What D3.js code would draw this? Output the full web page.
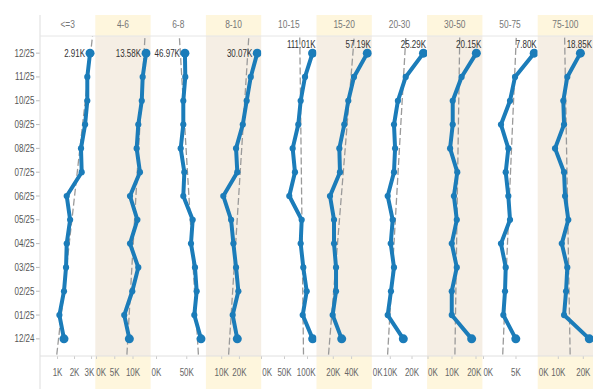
<!DOCTYPE html>
<html><head><meta charset="utf-8">
<script src="https://cdn.jsdelivr.net/npm/d3@7"></script>
<style>
body{margin:0;background:#fff}
svg{display:block}
text{font-family:"Liberation Sans",Arial,sans-serif}
</style>
</head><body>
<svg id="c" width="600" height="391"></svg>
<script>
// ---- data ----
const months = ["12/24","01/25","02/25","03/25","04/25","05/25","06/25","07/25","08/25","09/25","10/25","11/25","12/25"];
const bins = ["<=3","4-6","6-8","8-10","10-15","15-20","20-30","30-50","50-75","75-100"];

const v_le3   = [1380,1110,1380,1500,1540,1740,1540,2420,2380,2620,2750,2750,2910];
const v_4_6   = [9000,7600,9800,11450,9180,11200,9180,11900,11000,11450,12400,12650,13580];
const v_6_8   = [73600,62500,66400,63600,57000,59800,44300,46000,40000,44300,44300,47600,46970];
const v_8_10  = [18800,16200,19400,18100,16600,15300,10900,18800,18100,21900,24100,26400,30070];
const v_10_15 = [111300,89600,98300,90900,85200,87400,60400,72800,67800,80000,85200,94600,111010];
const v_15_20 = [29200,19300,23000,23000,20800,20800,16400,27300,26600,32000,36400,42600,57190];
const v_20_30 = [16000,8800,10300,11700,10200,11100,8800,11700,12200,11700,13500,17100,25290];
const v_30_50 = [18200,9900,9900,12000,9900,12000,10800,12200,9200,10300,10300,14000,20150];
const v_50_75 = [4970,3050,3310,3420,2690,4080,3820,3420,3820,2690,4080,4850,7800];
const v_75_100= [22400,12300,13100,13600,11400,14000,12700,12300,8700,12300,12000,13600,18850];
const series = [v_le3,v_4_6,v_6_8,v_8_10,v_10_15,v_15_20,v_20_30,v_30_50,v_50_75,v_75_100];

// per-panel axis extents (thousands) and tick values (thousands)
const xDomainsK = [[-0.03,3.22],[-0.33,14.82],[-9.75,81.65],[1.07,32.3],[-0.65,119.6],[1.64,62.1],[1.47,26.96],[-0.375,22.67],[-0.17,8.34],[1.76,23.88]];
const xTicksK = [[1,2,3],[0,5,10],[0,50],[10,20],[0,50,100],[20,40],[0,10,20],[0,10,20],[0,5],[0,10,20]];
const labelPlace = ["left","left","left","left","above","above","above","above","above","above"];

// ---- layout ----
const plotL=40, plotR=593, headTop=15, headBot=36, plotBot=356, axisBot=389;
const pw=(plotR-plotL)/bins.length;
const blue="#1b7cb9";
const SX=0.8; // condensed text look
const svg=d3.select("#c");

function addText(x,yy,str,size,fill,anchor){
  const t=svg.append("text").attr("font-size",size).attr("fill",fill)
    .attr("text-anchor",anchor||"middle").text(str)
    .attr("transform",`translate(${x},${yy}) scale(${SX},1)`);
  return t;
}
function moveText(t,x,yy){ t.attr("transform",`translate(${x},${yy}) scale(${SX},1)`); }

const y=d3.scalePoint().domain(months).range([plotBot, headBot]).padding(0.72);
const step=y(months[1])-y(months[0]);
const yAt=t=>y(months[0])+t*step;

const defs=svg.append("defs");

bins.forEach((b,i)=>{
  const L=plotL+i*pw, R=L+pw;
  const shaded=i%2===1;
  if(shaded){
    svg.append("rect").attr("x",L).attr("y",headTop).attr("width",pw).attr("height",headBot-headTop).attr("fill","#fef6dd");
    svg.append("rect").attr("x",L).attr("y",headBot).attr("width",pw).attr("height",plotBot-headBot).attr("fill","#f5eee4");
    svg.append("rect").attr("x",L).attr("y",plotBot).attr("width",pw).attr("height",axisBot-plotBot).attr("fill","#fef6dd");
  }
  addText(L+pw/2,28,b,10.5,"#777","middle");

  const x=d3.scaleLinear().domain(xDomainsK[i].map(d=>d*1000)).range([L,R]);
  const vals=series[i];
  const pts=vals.map((v,k)=>({m:months[k],v,k}));

  defs.append("clipPath").attr("id","cp"+i).append("rect")
    .attr("x",L).attr("y",headBot).attr("width",pw).attr("height",plotBot-headBot);
  const g=svg.append("g").attr("clip-path",`url(#cp${i})`);

  // linear trend
  const n=vals.length, mt=d3.mean(pts,d=>d.k), mv=d3.mean(vals);
  const slope=d3.sum(pts,d=>(d.k-mt)*(d.v-mv))/d3.sum(pts,d=>(d.k-mt)*(d.k-mt));
  const icpt=mv-slope*mt;
  const tr=[-1.5,n+0.5].map(t=>({t,v:icpt+slope*t}));
  g.append("path").attr("d",d3.line().x(d=>x(d.v)).y(d=>yAt(d.t))(tr))
    .attr("fill","none").attr("stroke","#9a9a9a").attr("stroke-width",1.3).attr("stroke-dasharray","7,3");

  g.append("path").attr("d",d3.line().x(d=>x(d.v)).y(d=>y(d.m))(pts))
    .attr("fill","none").attr("stroke",blue).attr("stroke-width",4).attr("stroke-linejoin","round").attr("stroke-linecap","round");
  g.selectAll("circle").data(pts).join("circle")
    .attr("cx",d=>x(d.v)).attr("cy",d=>y(d.m))
    .attr("r",d=>(d.k===0||d.k===n-1)?4.5:3.1).attr("fill",blue);

  // last value label
  const last=pts[n-1];
  const txt=(last.v/1000).toFixed(2)+"K";
  if(labelPlace[i]==="left"){
    addText(x(last.v)-5,y(last.m)+3.5,txt,10,"#333","end");
  } else {
    addText(R-1,y(last.m)-5,txt,10,"#333","end");
  }

  // x axis ticks
  xTicksK[i].forEach(tk=>{
    const px=x(tk*1000);
    if(px>=L && px<=R){
      svg.append("line").attr("x1",px).attr("x2",px).attr("y1",plotBot).attr("y2",plotBot+3).attr("stroke","#ccc");
    }
    const t=addText(px,376,tk+"K",10,"#666","middle");
    const w=t.node().getComputedTextLength()*SX;
    const cx=Math.max(L+w/2+1,Math.min(R-w/2-1,px));
    moveText(t,cx,376);
  });
});

// y axis
months.forEach(m=>{
  svg.append("line").attr("x1",36).attr("x2",40).attr("y1",y(m)).attr("y2",y(m)).attr("stroke","#bbb");
  addText(34.5,y(m)+3.5,m,10,"#555","end");
});

// borders
svg.append("line").attr("x1",plotL).attr("x2",plotL).attr("y1",headTop).attr("y2",axisBot).attr("stroke","#ddd");
svg.append("line").attr("x1",plotL).attr("x2",plotR).attr("y1",headBot).attr("y2",headBot).attr("stroke","#e6e6e6");
svg.append("line").attr("x1",plotL).attr("x2",plotR).attr("y1",plotBot).attr("y2",plotBot).attr("stroke","#e0e0e0");
</script>
</body></html>
